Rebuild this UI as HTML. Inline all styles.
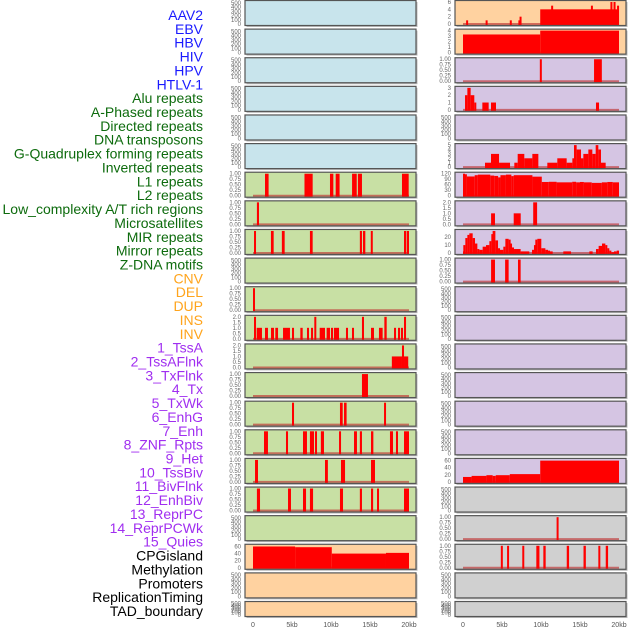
<!DOCTYPE html>
<html><head><meta charset="utf-8">
<style>
html,body{margin:0;padding:0;background:#fff;}
svg{display:block;font-family:"Liberation Sans",sans-serif;}
</style></head>
<body>
<svg id="chart" width="630" height="630" viewBox="0 0 630 630" xmlns="http://www.w3.org/2000/svg"></svg>
<script>
// ---- data ----
const trackLabels = ["AAV2","EBV","HBV","HIV","HPV","HTLV-1","Alu repeats","A-Phased repeats","Directed repeats","DNA transposons","G-Quadruplex forming repeats","Inverted repeats","L1 repeats","L2 repeats","Low_complexity A/T rich regions","Microsatellites","MIR repeats","Mirror repeats","Z-DNA motifs","CNV","DEL","DUP","INS","INV","1_TssA","2_TssAFlnk","3_TxFlnk","4_Tx","5_TxWk","6_EnhG","7_Enh","8_ZNF_Rpts","9_Het","10_TssBiv","11_BivFlnk","12_EnhBiv","13_ReprPC","14_ReprPCWk","15_Quies","CPGisland","Methylation","Promoters","ReplicationTiming","TAD_boundary"];
const trackGroups = ["v","v","v","v","v","v","r","r","r","r","r","r","r","r","r","r","r","r","r","c","c","c","c","c","h","h","h","h","h","h","h","h","h","h","h","h","h","h","h","o","o","o","o","o"];
const xTickValues = [0,5,10,15,20];
const xTickLabels = ["0","5kb","10kb","15kb","20kb"];
const ticksEmpty = [0,100,200,300,400,500];
const ticksUnit = [0,0.25,0.5,0.75,1];
const ticksTwo = [0,0.5,1,1.5,2];
const segAlu = [[1.54,2.0,1],[6.6,7.65,1],[9.87,10.3,1],[10.6,11.1,1],[12.7,13.3,1],[13.45,13.97,1],[19.1,19.96,1]];
const segAPhased = [[0.5,0.77,1]];
const segDirected = [[0.13,0.38,1],[2.3,2.65,1],[3.7,4.06,1],[7.3,7.65,1],[13.7,13.97,1],[14.1,14.4,1],[15.1,15.3,1],[19.36,19.62,1],[19.7,20.0,1]];
const segGQuad = [[0,0.2,1]];
const segInverted = [[0.13,0.34,2],[0.47,1.15,1],[1.54,1.92,1],[2.31,2.69,1],[2.86,3.21,1],[3.85,4.74,1],[5.0,5.26,1],[6.07,6.37,1],[6.92,7.18,1],[7.44,7.69,1],[7.86,8.08,2],[8.55,9.23,1],[9.44,9.87,1],[10.0,10.26,1],[10.38,11.03,1],[11.92,12.18,1],[12.69,12.95,1],[13.97,14.23,2],[15.13,15.51,1],[16.15,16.62,1],[16.84,17.14,2],[18.08,18.33,1],[18.59,18.85,1],[18.97,19.23,1],[19.36,19.62,2]];
const segL1 = [[17.8,19.1,1],[19.1,19.36,2],[19.36,19.9,1]];
const segL2 = [[13.97,14.74,1]];
const segLowComplex = [[5.0,5.26,1],[11.15,11.5,1],[11.67,12.0,1],[16.8,17.05,1]];
const segMicrosat = [[1.41,1.92,1],[4.23,4.49,1],[6.41,6.92,1],[7.3,7.82,1],[7.95,8.2,1],[8.7,9.1,1],[11.03,11.28,1],[12.95,13.33,1],[13.7,13.97,1],[15.13,15.43,1],[17.56,17.95,1],[18.33,18.59,1],[19.36,20.0,1]];
const segMIR = [[0.26,0.64,1],[9.23,9.6,1],[11.28,11.8,1],[15.13,15.64,1]];
const segMirror = [[0.5,0.9,1],[4.49,4.87,1],[6.41,6.8,1],[7.3,7.7,1],[11.15,11.54,1],[13.7,13.97,1],[15.13,15.4,1],[15.9,16.15,1],[19.36,20.0,1]];
const segCNV = [[0,5.4,60],[5.4,10.1,58],[10.1,17.05,40],[17.05,20,42]];
const segINS = [[0.4,0.55,1],[2.9,3.05,1],[6.0,6.15,1],[7.1,7.25,1],[7.25,7.4,2],[9.9,20,4],[11.3,11.45,5],[16.4,16.55,5],[18.9,19.05,6],[19.3,19.45,6],[19.75,19.9,5]];
const segINV = [[0,9.9,3.3],[9.9,20,4]];
const segTssA = [[9.85,10.1,1],[16.8,17.8,1]];
const segTssAFlnk = [[0.26,0.56,2],[0.56,0.98,3],[0.98,1.45,2],[1.45,1.67,1],[2.48,3.29,1],[3.59,4.23,1],[17.05,17.44,1]];
const segTx = [[2.82,3.59,1],[3.59,4.62,3],[4.62,6.03,1],[6.58,7.01,1],[7.01,7.86,3],[7.86,8.89,2],[8.89,9.66,3],[10.81,12.09,1],[12.09,13.29,2],[13.29,14.02,1],[14.02,14.23,2],[14.23,14.57,5],[14.57,15.13,4],[15.13,15.43,2],[15.43,16.07,3],[16.07,16.58,4],[16.58,17.01,3],[17.01,17.35,5],[17.35,17.69,4],[17.69,18.29,1]];
const segTxWk = [[0,0.2,120],[0.2,0.5,117],[0.5,1.5,105],[1.5,1.9,112],[1.9,3.5,115],[3.5,4.0,110],[4.0,4.5,108],[4.5,4.8,100],[4.8,5.5,112],[5.5,6.2,115],[6.2,6.5,107],[6.5,8.9,112],[8.9,10.1,104],[10.1,11,75],[11,12,76],[12,14,73],[14,14.5,76],[14.5,15,73],[15,15.5,75],[15.5,16.5,73],[16.5,17.8,70],[17.8,18.5,73],[18.5,19.2,75],[19.2,20,73]];
const segEnhG = [[3.6,4.1,1],[6.5,7.4,1],[9.0,9.5,2]];
const segEnh = [[0,0.04,2],[0.04,0.3,10],[0.3,0.56,19],[0.56,0.81,23],[0.81,1.24,25],[1.24,1.54,19],[1.54,1.84,12],[1.84,2.09,5],[2.09,2.52,4],[2.52,2.95,8],[2.95,3.38,10],[3.38,3.63,15],[3.63,3.8,24],[3.8,4.15,28],[4.15,4.49,16],[4.49,4.74,6],[4.74,5.17,4],[5.17,5.43,8],[5.43,5.85,18],[5.85,6.03,17],[6.03,6.28,12],[6.28,6.54,7],[6.54,7.39,5],[7.39,8.5,2],[8.85,9.1,4],[9.1,9.27,10],[9.27,9.53,17],[9.53,10.04,18],[10.04,10.56,6],[10.56,10.9,4],[10.9,11.15,3],[11.15,11.5,2],[12.86,13.85,2],[16.2,16.62,2],[17.05,17.39,5],[17.39,17.82,9],[17.82,18.25,12],[18.25,18.5,10],[18.5,18.76,6],[18.76,19.02,3],[19.02,19.36,1],[19.36,19.7,2],[19.7,20.0,3]];
const segZNF = [[3.6,4.1,1],[5.4,5.85,1],[7.05,7.39,1]];
const segQuies = [[0,1.1,14],[1.1,3.0,17],[3.0,3.8,19],[3.8,4.2,17],[4.2,6.0,19],[6.0,9.9,22],[9.9,20,60]];
const segMethyl = [[12.0,12.2,1]];
const segPromoters = [[4.85,5.1,1],[5.65,5.9,1],[7.6,7.85,1],[9.4,9.8,1],[10.3,10.6,1],[13.3,13.6,1],[15.45,15.75,1],[17.35,17.6,1],[18.3,18.6,1]];

// per-track: segments, y-axis max, tick values
const trackSegs = [null,null,null,null,null,null,segAlu,segAPhased,segDirected,null,segGQuad,segInverted,segL1,segL2,segLowComplex,segMicrosat,segMIR,segMirror,null,segCNV,null,null,segINS,segINV,segTssA,segTssAFlnk,null,segTx,segTxWk,segEnhG,segEnh,segZNF,null,null,null,null,null,null,segQuies,null,segMethyl,segPromoters,null,null];
const trackYMax = [520,520,520,520,520,520,1,1,1,520,1,2,2,1,1,1,1,1,520,62,520,520,6,4,1,3,520,5,120,2,28,1,520,520,520,520,520,520,62,520,1,1,520,520];
const trackTicks = [ticksEmpty,ticksEmpty,ticksEmpty,ticksEmpty,ticksEmpty,ticksEmpty,ticksUnit,ticksUnit,ticksUnit,ticksEmpty,ticksUnit,ticksTwo,ticksTwo,ticksUnit,ticksUnit,ticksUnit,ticksUnit,ticksUnit,ticksEmpty,[0,20,40,60],ticksEmpty,ticksEmpty,[0,2,4,6],[0,1,2,3,4],ticksUnit,[0,1,2,3],ticksEmpty,[0,1,2,3,4,5],[0,30,60,90,120],ticksTwo,[0,10,20],ticksUnit,ticksEmpty,ticksEmpty,ticksEmpty,ticksEmpty,ticksEmpty,ticksEmpty,[0,20,40,60],ticksEmpty,ticksUnit,ticksUnit,ticksEmpty,ticksEmpty];

// ---- drawing ----
const NS = "http://www.w3.org/2000/svg";
const svg = document.getElementById("chart");
const groupBg = {v:"#c8e4ec", r:"#c8e0a4", c:"#ffd2a0", h:"#d5c5e3", o:"#d0d0d0"};
const labelColor = {v:"#1a1aff", r:"#0d6b0d", c:"#ffa41c", h:"#a02ef0", o:"#000000"};
function mk(tag, attrs, parent){const e=document.createElementNS(NS,tag);for(const k in attrs)e.setAttribute(k,attrs[k]);(parent||svg).appendChild(e);return e;}
function slug(s){return s.toLowerCase().replace(/[^a-z0-9]+/g,"-").replace(/^-|-$/g,"");}
function tickFmt(t, ticks){
  if(ticks===ticksUnit) return t.toFixed(2);
  if(ticks===ticksTwo) return t.toFixed(1);
  return String(t);
}

// labels
trackLabels.forEach((name,i)=>{
  const t = mk("text",{x:203,y:20+i*13.86,"text-anchor":"end","font-size":"14",fill:labelColor[trackGroups[i]]});
  t.textContent = name;
  
  
});

const rowsPerCol = 22, pitch = 28.62;
trackLabels.forEach((name,i)=>{
  const col = Math.floor(i/rowsPerCol), row = i%rowsPerCol;
  const px = col===0 ? 245 : 455, pw = 171;
  const top = row*pitch + 0.5;
  const h = row===rowsPerCol-1 ? 15 : 25;
  const xs = kb => px + 8 + kb*7.8;
  const ymax = trackYMax[i];
  const ys = v => top + h - 1.5 - (v/ymax)*(h-3);
  const g = mk("g",{});
  
  
  // shadow
  mk("rect",{x:px+1.5,y:top+1.5,width:pw,height:h,fill:"#bbbbbb"},g);
  const bg = mk("rect",{x:px,y:top,width:pw,height:h,fill:groupBg[trackGroups[i]]},g);
  
  
  // baseline
  if(trackSegs[i]){
    const bl = mk("line",{x1:xs(0),x2:xs(20),y1:ys(0),y2:ys(0),stroke:"rgba(190,50,50,0.65)","stroke-width":2},g);
    
    
    trackSegs[i].forEach(s=>{
      const x1 = xs(s[0]), x2 = xs(s[1]);
      const w = Math.max(x2-x1, 2);
      const r = mk("rect",{x:x1,y:ys(s[2]),width:w,height:ys(0)-ys(s[2])+1,fill:"#ff0000"},g);
      
      
    });
  }
  // frame
  mk("rect",{x:px,y:top,width:pw,height:h,fill:"none",stroke:"#555","stroke-width":1.2},g);
  // y ticks
  trackTicks[i].forEach(t=>{
    const tl = mk("text",{x:px-4,y:ys(t)+2,"text-anchor":"end","font-size":"6",fill:"#666"},g);
    tl.textContent = tickFmt(t, trackTicks[i]);
    
    
  });
});

// x axes
[253,463].forEach((x0,c)=>{
  xTickValues.forEach((v,k)=>{
    const t = mk("text",{x:x0+v*7.8,y:627,"text-anchor":"middle","font-size":"7",fill:"#555"});
    t.textContent = xTickLabels[k];
    
    
  });
});
</script>
</body></html>
